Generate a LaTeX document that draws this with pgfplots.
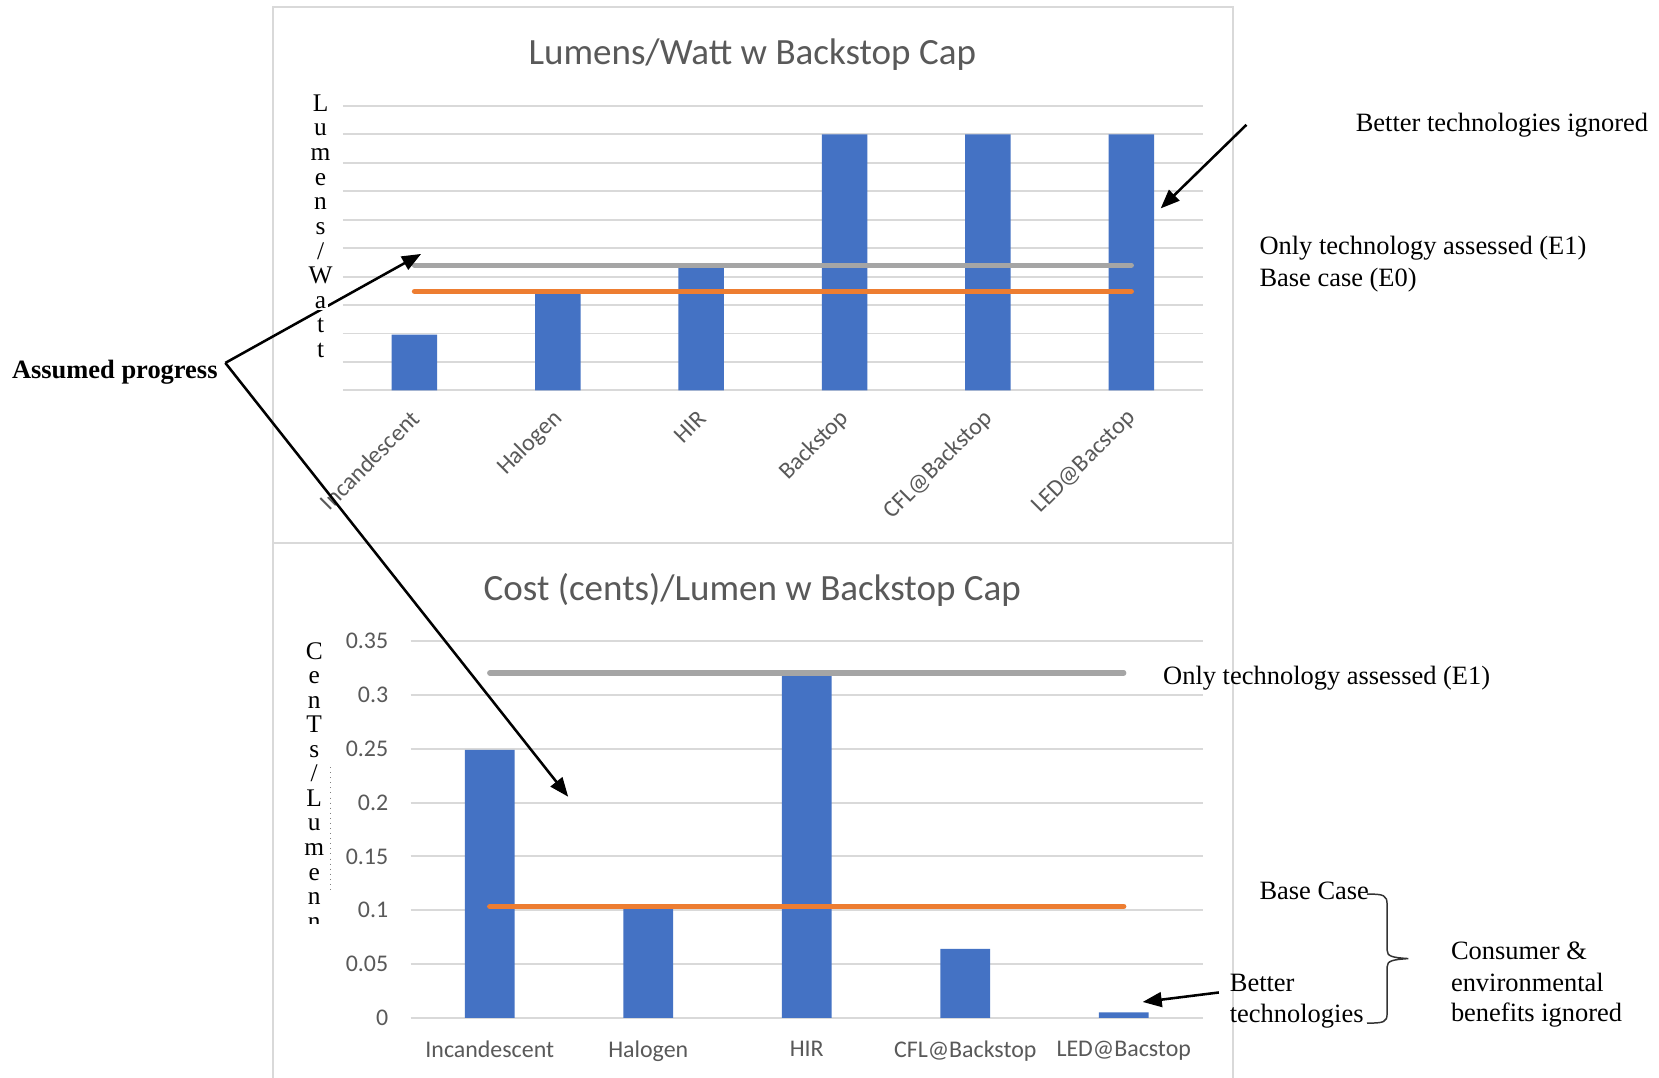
\documentclass[border=0pt]{standalone}
\usepackage{fontspec}
\setmainfont{Liberation Serif}
\newfontfamily\calibri{Carlito}
\usepackage{pgfplots}
\usepackage{pgfplotstable}
\pgfplotsset{compat=1.18}
\usetikzlibrary{arrows.meta}

\definecolor{barblue}{HTML}{4472C4}
\definecolor{lineorange}{HTML}{ED7D31}
\definecolor{linegray}{HTML}{A5A5A5}
\definecolor{gridgray}{HTML}{D9D9D9}
\definecolor{labelgray}{HTML}{595959}

% Lumens per watt, one row per technology
\pgfplotstableread{
x value
0 9.8
1 17.4
2 21.6
3 45
4 45
5 45
}\efficacy

% Cost in cents per lumen
\pgfplotstableread{
x value
0 0.249
1 0.103
2 0.320
3 0.064
4 0.005
}\cost

\pgfplotsset{
  officechart/.style={
    scale only axis,
    axis line style={draw=none},
    major tick length=0pt,
    ymajorgrids,
    grid style={gridgray, line width=0.9pt},
    ymin=0,
    tick label style={font=\calibri\fontsize{11.3}{13.5}\selectfont, text=labelgray},
    /pgf/number format/assume math mode=true,
    clip=false,
  },
  refline/.style={line width=2.5pt, line cap=round, mark=none},
}

\newcommand\annot{\fontsize{12.5}{15}\selectfont}
\newcommand\titlefont{\calibri\fontsize{17.5}{21}\selectfont}

\begin{document}
\begin{tikzpicture}
\begin{scope}[x=0.5pt,y=-0.5pt]
  \useasboundingbox (0,0) rectangle (1568,1018);
  \fill[white] (0,0) rectangle (1568,1018);
  % chart frames
  \draw[gridgray, line width=1pt] (258,7) rectangle (1165,513);
  \draw[gridgray, line width=1pt] (258,1040) -- (258,513) -- (1165,513) -- (1165,1040);
  \coordinate (topSW) at (324,369);
  \coordinate (botSW) at (388,962);
  \node[font=\titlefont, text=labelgray, inner sep=0] at (711,52) {Lumens/Watt w Backstop Cap};
  \node[font=\titlefont, text=labelgray, inner sep=0] at (711,558) {Cost (cents)/Lumen w Backstop Cap};
\end{scope}

% upper chart: efficacy
\begin{axis}[officechart,
  at={(topSW)}, anchor=south west,
  width=406.5pt, height=134.5pt,
  xmin=-0.5, xmax=5.5, ymax=50,
  ytick={0,5,...,50}, yticklabels={},
  xtick={0,...,5},
  xticklabels={Incandescent,Halogen,HIR,Backstop,CFL@Backstop,LED@Bacstop},
  xticklabel style={xshift=2.8pt, yshift=-9pt, rotate=45, anchor=east},
]
\addplot[ybar, bar width=21.5pt, fill=barblue, draw=none] table[x=x, y=value] {\efficacy};
\addplot[refline, linegray] coordinates {(0,22) (1,22) (2,22) (3,22) (4,22) (5,22)};
\addplot[refline, lineorange] coordinates {(0,17.4) (1,17.4) (2,17.4) (3,17.4) (4,17.4) (5,17.4)};
\end{axis}

% lower chart: cost
\begin{axis}[officechart,
  at={(botSW)}, anchor=south west,
  width=374.5pt, height=178pt,
  xmin=-0.5, xmax=4.5, ymax=0.35,
  ytick={0,0.05,0.1,0.15,0.2,0.25,0.3,0.35},
  yticklabels={0,0.05,0.1,0.15,0.2,0.25,0.3,0.35},
  yticklabel style={xshift=-7pt},
  xtick={0,...,4},
  xticklabels={Incandescent,Halogen,HIR,CFL@Backstop,LED@Bacstop},
  xticklabel style={yshift=-7.5pt},
]
\addplot[ybar, bar width=23.5pt, fill=barblue, draw=none] table[x=x, y=value] {\cost};
\addplot[refline, linegray] coordinates {(0,0.3205) (1,0.3205) (2,0.3205) (3,0.3205) (4,0.3205)};
\addplot[refline, lineorange] coordinates {(0,0.1035) (1,0.1035) (2,0.1035) (3,0.1035) (4,0.1035)};
\end{axis}

\begin{scope}[x=0.5pt,y=-0.5pt, >={Triangle[length=9pt,width=7pt]}]
  % callout lines
  \draw[line width=1.2pt, ->] (213,343) -- (398,240);
  \draw[line width=1.2pt, ->] (213,343) -- (537,753);
  \draw[line width=1.2pt, ->] (1178,118) -- (1097,197);
  \draw[line width=1.2pt, ->] (1152,938) -- (1080,947);

  % stacked axis titles
  \foreach \ch [count=\i from 0] in {L,u,m,e,n,s,/,W,a,t,t}
    \node[anchor=base, fill=white, inner sep=0.8pt, font=\fontsize{12}{14}\selectfont]
      at (303,{105+23.3*\i}) {\ch};
  \begin{scope}
    \clip (270,590) rectangle (330,873);
    \foreach \ch [count=\i from 0] in {C,e,n,T,s,/,L,u,m,e,n,n}
      \node[anchor=base, inner sep=0.8pt, font=\fontsize{12}{14}\selectfont]
        at (297,{623+23.2*\i}) {\ch};
  \end{scope}
  \draw[gray, line width=0.4pt, dotted] (312,725) -- (312,843);

  % annotations
  \node[anchor=west, inner sep=0, font=\annot] at (1281,118) {Better technologies ignored};
  \node[anchor=west, inner sep=0, font=\annot] at (1190,235) {Only technology assessed (E1)};
  \node[anchor=west, inner sep=0, font=\annot] at (1190,265) {Base case (E0)};
  \node[anchor=west, inner sep=0, font=\annot\bfseries] at (11,352) {Assumed progress};
  \node[anchor=west, inner sep=0, font=\annot] at (1099,641) {Only technology assessed (E1)};
  \node[anchor=west, inner sep=0, font=\annot] at (1190,842) {Base Case};
  \node[anchor=west, inner sep=0, font=\annot] at (1162,929) {Better};
  \node[anchor=west, inner sep=0, font=\annot] at (1162,960) {technologies};
  \node[anchor=west, inner sep=0, font=\annot] at (1371,899) {Consumer \&};
  \node[anchor=west, inner sep=0, font=\annot] at (1371,929) {environmental};
  \node[anchor=west, inner sep=0, font=\annot] at (1371,959) {benefits ignored};

  % brace grouping the two lower notes
  \draw[black!80, line width=0.7pt]
    (1292,845) .. controls (1308,845) and (1311,846) .. (1311,855)
    -- (1311,898) .. controls (1311,904) and (1316,905) .. (1331,906)
    .. controls (1316,907) and (1311,908) .. (1311,914)
    -- (1311,958) .. controls (1311,966) and (1308,967) .. (1292,967);
\end{scope}
\end{tikzpicture}
\end{document}
